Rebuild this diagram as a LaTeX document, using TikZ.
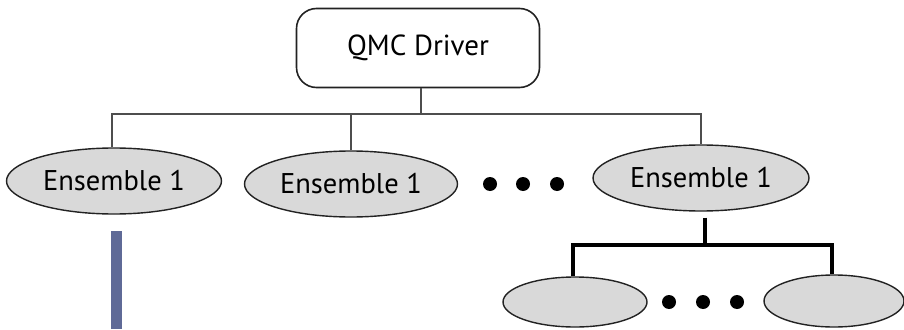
\documentclass[tikz,border=0pt]{standalone}
\usepackage{fontspec}
\setmainfont{PT Sans}
\usepackage{tikz}
\usetikzlibrary{positioning,shapes.geometric}
\definecolor{qmcgray}{HTML}{D9D9D9}
\definecolor{qmcslate}{HTML}{5F6A97}
\definecolor{qmcdark}{HTML}{222222}
\tikzset{
  driverbox/.style={rounded corners=20pt,draw=qmcdark,fill=white,line width=1.6pt,minimum width=243pt,minimum height=79pt,font=\fontsize{29}{34}\selectfont},
  ens/.style={ellipse,draw=qmcdark,fill=qmcgray,line width=1.4pt,minimum width=215pt,minimum height=66pt,inner sep=0pt,font=\fontsize{28.5}{34}\selectfont},
  walker/.style={ens,minimum width=142pt,minimum height=50pt},
  dot/.style={circle,fill=black,inner sep=0pt,minimum size=14pt},
  link/.style={draw=qmcdark!80,line width=1.6pt},
  thick link/.style={draw=black,line width=3.6pt},
}
\begin{document}
\begin{tikzpicture}[x=1pt,y=-1pt]
  \useasboundingbox (0,0) rectangle (904,329);
  \node[driverbox] (driver) at (418,48) {QMC Driver};
  \node[ens] (ens1) at (114,181) {Ensemble 1};
  \node[ens,minimum width=213pt] (ens2) at (351,184) {Ensemble 1};
  \node[ens,minimum width=216pt] (ens3) at (701,178) {Ensemble 1};
  \node[dot] (d1) at (490,184) {};
  \node[dot] (d2) at (523,184) {};
  \node[dot] (d3) at (557,184) {};
  \node[walker,minimum width=144pt] (sub1) at (575,302) {};
  \node[walker,minimum width=140pt,minimum height=52pt] (sub2) at (834,301) {};
  \node[dot] (s1) at (669,302) {};
  \node[dot] (s2) at (703,302) {};
  \node[dot] (s3) at (737,302) {};
  \coordinate (bus) at (421,114);
  \coordinate (subbus) at (705,245);
  % top level tree
  \draw[link] ([xshift=3pt]driver.south) -- (bus);
  \draw[link] ([xshift=-2pt]ens1.north) |- (ens3.north |- bus) -- (ens3.north);
  \draw[link] (ens2.north) -- (ens2.north |- bus);
  % walkers of the last ensemble
  \draw[thick link,shorten <=6pt] ([xshift=4pt]ens3.south) -- (subbus);
  \draw[thick link] ([xshift=-2pt]sub1.north) |- (subbus) -| ([xshift=-2pt]sub2.north);
  \fill[qmcslate] (111,231) rectangle (122,329);
\end{tikzpicture}
\end{document}
